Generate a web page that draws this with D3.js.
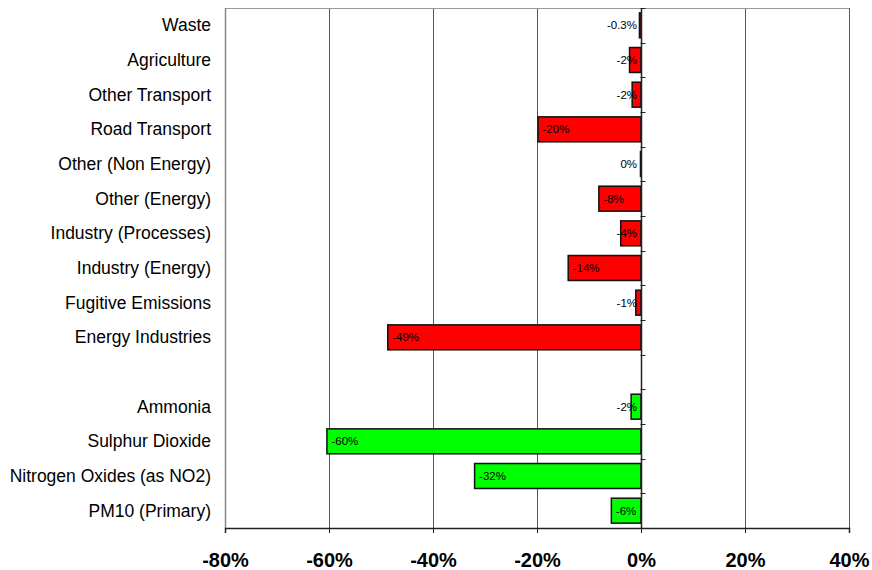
<!DOCTYPE html>
<html><head><meta charset="utf-8">
<script src="https://cdn.jsdelivr.net/npm/d3@7"></script>
<style>
body{margin:0;background:#fff;}
svg{display:block;font-family:Arial,"Liberation Sans",sans-serif;}
</style></head>
<body><svg id="c" width="872" height="570"></svg>
<script>
const categories = ["Waste","Agriculture","Other Transport","Road Transport","Other (Non Energy)","Other (Energy)","Industry (Processes)","Industry (Energy)","Fugitive Emissions","Energy Industries","","Ammonia","Sulphur Dioxide","Nitrogen Oxides (as NO2)","PM10 (Primary)"];
const values = [-0.3,-2.2,-1.7,-19.8,-0.1,-8.1,-3.9,-14.0,-1.0,-48.7,null,-1.9,-60.4,-32.0,-5.7];
const valueLabels = ["-0.3%","-2%","-2%","-20%","0%","-8%","-4%","-14%","-1%","-49%","","-2%","-60%","-32%","-6%"];
const groups = ["sector","sector","sector","sector","sector","sector","sector","sector","sector","sector","","pollutant","pollutant","pollutant","pollutant"];
const xTicks = [-80,-60,-40,-20,0,20,40];
const colors = {sector:"#FF0000", pollutant:"#00FF00"};

const svg = d3.select("#c");
const L=225, R=849, T=8, B=528;
const x = d3.scaleLinear().domain([-80,40]).range([L,R]);
const y = d3.scaleBand().domain(d3.range(categories.length)).range([T,B]).paddingInner(0.28).paddingOuter(0.14);
const yc = i => y(i)+y.bandwidth()/2;
const step = (B-T)/categories.length;

// gridlines
svg.append("g").selectAll("line").data(xTicks.filter(d=>d!==-80)).join("line")
  .attr("x1",d=>Math.round(x(d))+0.5).attr("x2",d=>Math.round(x(d))+0.5)
  .attr("y1",T).attr("y2",B).attr("stroke","#555").attr("stroke-width",1);
// frame top / left
svg.append("line").attr("x1",L).attr("x2",R).attr("y1",T+0.5).attr("y2",T+0.5).attr("stroke","#999");
svg.append("line").attr("x1",L+0.5).attr("x2",L+0.5).attr("y1",T).attr("y2",B).attr("stroke","#888").attr("stroke-width",1.5);

// bars
const idx = d3.range(categories.length).filter(i=>values[i]!==null);
svg.append("g").selectAll("rect").data(idx).join("rect")
  .attr("x",i=>x(Math.min(0,values[i])))
  .attr("y",i=>y(i))
  .attr("width",i=>Math.abs(x(values[i])-x(0)))
  .attr("height",y.bandwidth())
  .attr("fill",i=>colors[groups[i]])
  .attr("stroke","#111").attr("stroke-width",1.5);

// category axis at 0 with boundary ticks
const x0 = Math.round(x(0))+0.5;
svg.append("line").attr("x1",x0).attr("x2",x0).attr("y1",T).attr("y2",B).attr("stroke","#222").attr("stroke-width",1.5);
svg.append("g").selectAll("line").data(d3.range(categories.length+1)).join("line")
  .attr("x1",x0-1).attr("x2",x0+4)
  .attr("y1",i=>Math.round(T+i*step)+0.5).attr("y2",i=>Math.round(T+i*step)+0.5)
  .attr("stroke","#222").attr("stroke-width",1);

// value axis at bottom
const xAxis = svg.append("g").attr("transform",`translate(0,${B})`)
  .call(d3.axisBottom(x).tickValues(xTicks).tickSize(5).tickFormat(d=>d+"%"));
xAxis.select(".domain").attr("stroke","#222").attr("stroke-width",1.5);
xAxis.selectAll(".tick line").attr("stroke","#222");
xAxis.selectAll("text").attr("font-size","20px").attr("font-weight","bold").attr("fill","#000")
  .attr("font-family","Arial,'Liberation Sans',sans-serif").attr("dy",null).attr("y",39);

// category labels
svg.append("g").selectAll("text").data(d3.range(categories.length)).join("text")
  .attr("x",211).attr("y",i=>yc(i)).attr("dy","0.35em")
  .attr("text-anchor","end").attr("font-size","17.5px").attr("fill","#000")
  .text(i=>categories[i]);

// value labels
svg.append("g").selectAll("text").data(idx).join("text")
  .attr("y",i=>yc(i)).attr("dy","0.35em")
  .attr("font-size","11.5px").attr("fill","#000")
  .text(i=>valueLabels[i])
  .each(function(i){
    const w = this.getComputedTextLength();
    let sx = x(values[i]) + 4.5;
    if (sx + w > x(0) - 4) sx = x(0) - 4 - w;
    d3.select(this).attr("x",sx);
  });
</script></body></html>
